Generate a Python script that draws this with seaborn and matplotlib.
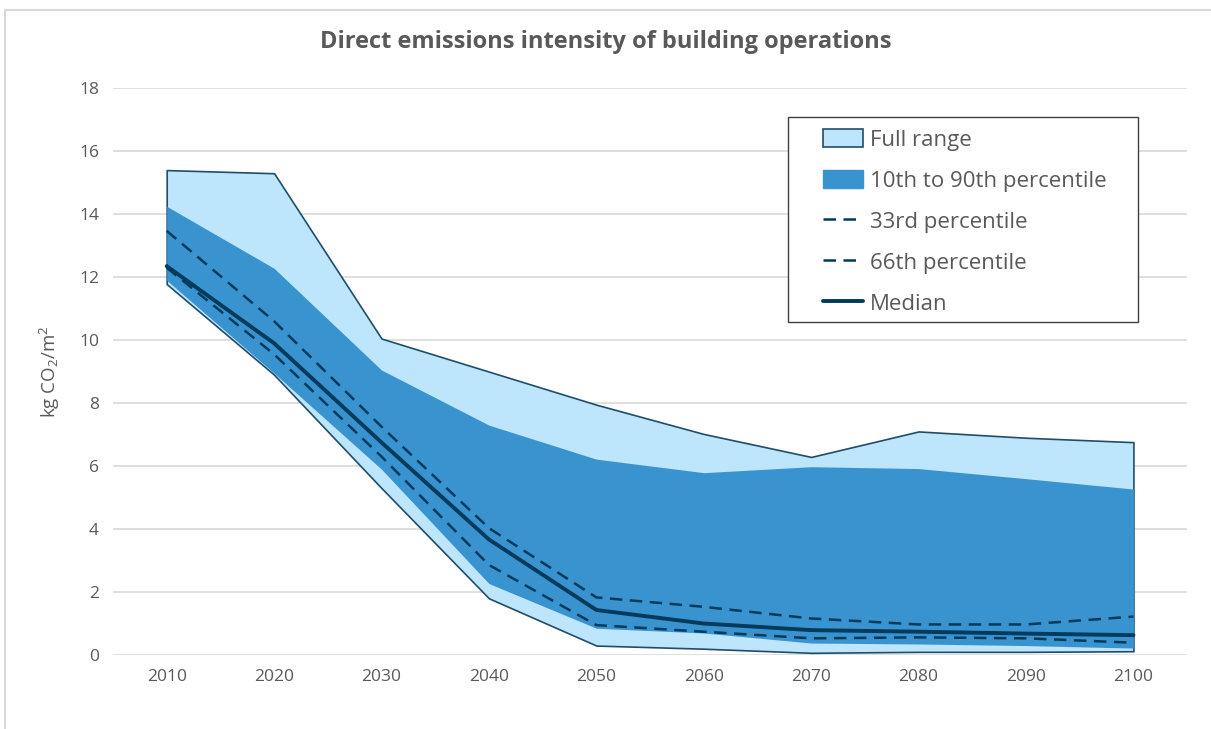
import numpy as np
import pandas as pd
import matplotlib
matplotlib.use('Agg')
import matplotlib.pyplot as plt
import seaborn as sns
from matplotlib.patches import Patch, Rectangle
from matplotlib.lines import Line2D

# Values (kg CO2/m2)
years = [2010, 2020, 2030, 2040, 2050, 2060, 2070, 2080, 2090, 2100]
full_max = [15.4, 15.3, 10.05, 9.0, 7.95, 7.02, 6.29, 7.1, 6.9, 6.76]
full_min = [11.78, 8.9, 5.3, 1.8, 0.3, 0.2, 0.07, 0.1, 0.1, 0.12]
p90 = [14.25, 12.28, 9.05, 7.3, 6.22, 5.79, 5.98, 5.92, 5.6, 5.27]
p10 = [11.9, 8.95, 5.9, 2.27, 0.85, 0.7, 0.38, 0.35, 0.3, 0.22]
p66 = [13.47, 10.6, 7.25, 4.03, 1.83, 1.53, 1.16, 0.97, 0.97, 1.22]
median = [12.35, 9.9, 6.75, 3.67, 1.43, 1.0, 0.79, 0.74, 0.68, 0.63]
p33 = [12.3, 9.55, 6.3, 2.86, 0.95, 0.74, 0.53, 0.56, 0.53, 0.39]

df = pd.DataFrame({'year': years, 'p33': p33, 'p66': p66, 'median': median})

light = '#BDE5FB'
dark = '#3893CF'
navy = '#003A5D'
edge = '#1F4E6B'
text_c = '#595959'

sns.set_style('white')
plt.rcParams['font.family'] = ['Open Sans', 'DejaVu Sans']
plt.rcParams['mathtext.fontset'] = 'custom'
plt.rcParams['mathtext.rm'] = 'Open Sans'
plt.rcParams['mathtext.it'] = 'Open Sans'

fig = plt.figure(figsize=(12.11, 7.29), dpi=100)
ax = fig.add_axes([0.0933, 0.1015, 0.887, 0.7775])

# shaded ranges
ax.fill_between(years, full_min, full_max, color=light, edgecolor=edge, linewidth=1.2, zorder=2)
ax.fill_between(years, p10, p90, color=dark, linewidth=0, zorder=3)

# percentile lines
sns.lineplot(data=df, x='year', y='p66', ax=ax, color=navy, linewidth=1.8, zorder=4)
ax.lines[-1].set_dashes([5, 3])
sns.lineplot(data=df, x='year', y='p33', ax=ax, color=navy, linewidth=1.8, zorder=4)
ax.lines[-1].set_dashes([5, 3])
sns.lineplot(data=df, x='year', y='median', ax=ax, color=navy, linewidth=2.8, zorder=5)

ax.set_xlim(2005, 2105)
ax.set_ylim(0, 18)
ax.set_yticks(range(0, 19, 2))
ax.set_xticks(years)
ax.yaxis.grid(True, color='#D9D9D9', linewidth=1.2, zorder=0)
ax.set_axisbelow(True)
for s in ax.spines.values():
    s.set_visible(False)
ax.tick_params(axis='both', length=0, labelsize=12.5, colors=text_c, pad=10)
ax.set_xlabel('')
ax.set_ylabel('kg CO$_2$/m$^2$', fontsize=13.5, color=text_c, labelpad=12)

fig.text(0.5, 0.942, 'Direct emissions intensity of building operations',
         ha='center', va='center', fontsize=17, fontweight='bold', color=text_c)

handles = [
    Patch(facecolor=light, edgecolor=edge, linewidth=1.2, label='Full range'),
    Patch(facecolor=dark, edgecolor=dark, label='10th to 90th percentile'),
    Line2D([], [], color=navy, linewidth=1.8, dashes=[5, 3], label='33rd percentile'),
    Line2D([], [], color=navy, linewidth=1.8, dashes=[5, 3], label='66th percentile'),
    Line2D([], [], color=navy, linewidth=2.8, label='Median'),
]
leg = ax.legend(handles=handles, loc='upper left', bbox_to_anchor=(0.661, 0.928),
                frameon=False, fontsize=16, labelcolor=text_c,
                handlelength=1.8, handleheight=0.9, handletextpad=0.3,
                labelspacing=0.86, borderpad=0, borderaxespad=0)
leg.set_zorder(10)
ax.add_patch(Rectangle((0.6285, 0.5873), 0.3259, 0.3616, transform=ax.transAxes,
                       facecolor='white', edgecolor='#404040', linewidth=1.0, zorder=9))

# outer chart-area border (top and left edges visible in the reference)
fig.add_artist(Line2D([0.004, 1.0], [0.986, 0.986], color='#D9D9D9', linewidth=1.5,
                      transform=fig.transFigure))
fig.add_artist(Line2D([0.004, 0.004], [0.0, 0.986], color='#D9D9D9', linewidth=1.5,
                      transform=fig.transFigure))

fig.savefig('out.png', dpi=100)
